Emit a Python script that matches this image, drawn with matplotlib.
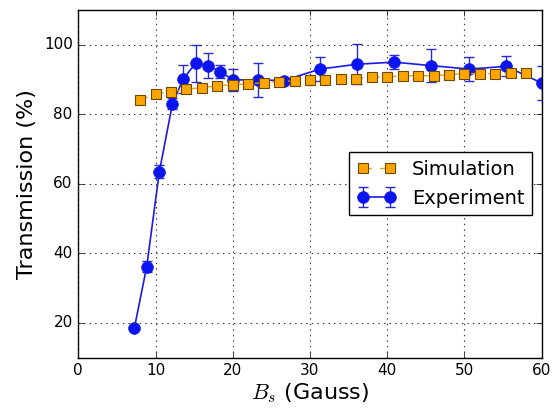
import matplotlib
matplotlib.use("Agg")
import matplotlib.pyplot as plt

# Simulation data
sim_B = [8, 10, 12, 14, 16, 18, 20, 22, 24, 26, 28, 30, 32, 34, 36, 38, 40,
         42, 44, 46, 48, 50, 52, 54, 56, 58]
sim_T = [84.1, 85.8, 86.5, 87.2, 87.7, 88.2, 88.5, 88.7, 89.1, 89.4, 89.6,
         89.9, 89.9, 90.2, 90.2, 90.7, 90.7, 91.1, 91.1, 91.1, 91.4, 91.7,
         91.7, 91.7, 91.9, 92.0]

# Experiment data
exp_B = [7.26, 8.86, 10.5, 12.2, 13.6, 15.2, 16.8, 18.4, 20.0, 23.3, 26.6,
         31.3, 36.1, 40.9, 45.7, 50.6, 55.4, 60.0]
exp_T = [18.5, 36.2, 63.5, 83.1, 90.2, 94.7, 94.0, 92.3, 89.9, 89.9, 89.7,
         93.0, 94.4, 95.0, 94.0, 93.0, 93.8, 89.0]
exp_err = [0.5, 1.5, 1.8, 1.5, 4.0, 5.3, 3.5, 1.8, 3.1, 4.8, 0.8,
           3.5, 5.7, 2.0, 4.8, 3.4, 2.9, 4.9]

plt.style.use('classic')
plt.rcParams['mathtext.fontset'] = 'cm'

fig = plt.figure(figsize=(5.52, 4.09), dpi=100, facecolor='white')
ax = fig.add_axes([0.1418, 0.1254, 0.8395, 0.8502])
ax.set_facecolor('white')

h_exp = ax.errorbar(exp_B, exp_T, yerr=exp_err, fmt='-o', color='#1a1ae6',
                    mfc='#0a14f0', mec='#1a1ae6', ms=8.5, lw=1.2,
                    ecolor='#2a2ad0', elinewidth=1.0, capsize=3.5,
                    capthick=1.0, label='Experiment', zorder=2)
h_sim, = ax.plot(sim_B, sim_T, '--s', color='#f5a000', mfc='#ffa500',
                 mec='#6b4a00', ms=6.5, lw=1.0, mew=0.8,
                 label='Simulation', zorder=3)

ax.set_xlim(0, 60)
ax.set_ylim(10, 110)
ax.set_xticks([0, 10, 20, 30, 40, 50, 60])
ax.set_yticks([20, 40, 60, 80, 100])
ax.grid(True, linestyle=(0, (1, 3)), color='#333333', linewidth=0.8)
ax.tick_params(labelsize=11, direction='in')

ax.set_xlabel(r'$B_s$ (Gauss)', fontsize=16, labelpad=2)
ax.set_ylabel('Transmission (%)', fontsize=16)

ax.legend([h_sim, h_exp], ['Simulation', 'Experiment'], loc='center right',
          fontsize=14, numpoints=2, fancybox=False)

fig.savefig('out.png', dpi=100, facecolor='white')
